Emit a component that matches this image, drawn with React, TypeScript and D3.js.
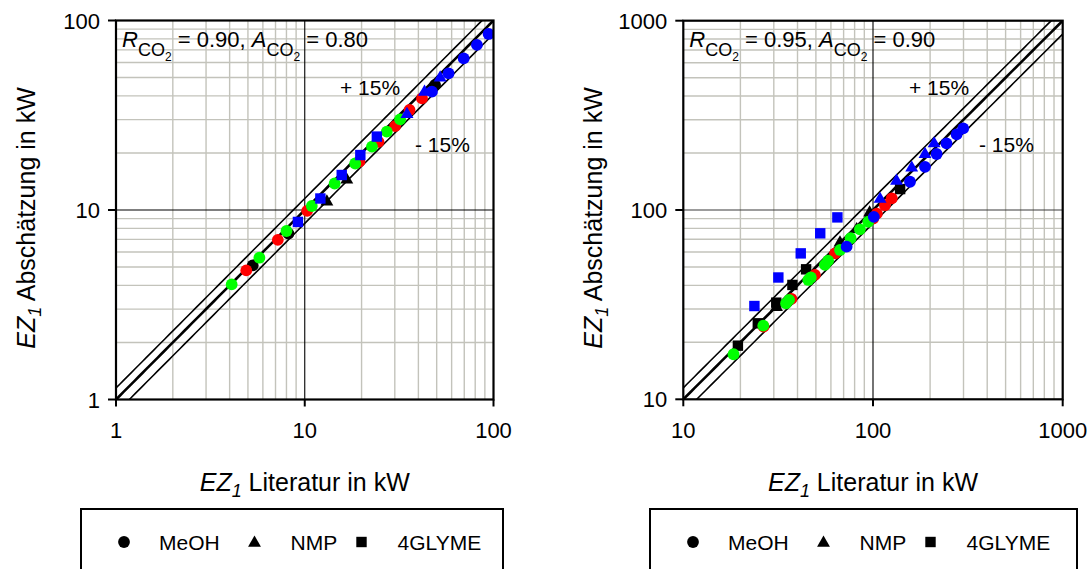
import React from 'react';
import * as d3 from 'd3';

type Pt = [number, number];

// ---- tick labels ----
const leftTicks = [1, 10, 100];
const rightTicks = [10, 100, 1000];

// ---- left panel series (EZ1 Literatur, EZ1 Abschätzung) in kW ----
const leftBlackCircle: Pt[] = [[5.3, 5.1], [8.2, 7.5], [49, 45.7]];
const leftBlackTri: Pt[] = [[13.1, 11.2], [16.7, 14.6]];
const leftRedCircle: Pt[] = [[4.9, 4.8], [7.2, 6.95], [10.3, 9.9], [19.5, 18.0], [24.6, 22.9], [30.1, 27.7], [35.9, 33.7], [41.8, 38.8]];
const leftGreenCircle: Pt[] = [[4.1, 4.05], [5.75, 5.6], [8.0, 7.75], [10.9, 10.5], [14.4, 13.8], [18.5, 17.6], [22.7, 21.6], [27.2, 25.9], [32, 30.1]];
const leftBlueCircle: Pt[] = [[47.2, 42.1], [57.8, 52.6], [69.5, 63.1], [81.7, 74.3], [94.2, 84.9]];
const leftBlueSquare: Pt[] = [[9.2, 8.65], [12.1, 11.5], [15.7, 15.3], [19.7, 19.5], [24.1, 24.4]];
const leftBlueTri: Pt[] = [[34.8, 32.4], [43.1, 42.5], [52.2, 50.5]];

// ---- right panel series ----
const rightBlackSquare: Pt[] = [[19.4, 19.2], [24.7, 25.2], [30.9, 32.4], [37.6, 40.2], [44.4, 48.6], [139, 129]];
const rightBlackTri: Pt[] = [[31, 31], [67, 68], [82, 80], [96, 98]];
const rightRedCircle: Pt[] = [[26.5, 24.2], [37.2, 33.9], [49.4, 45.4], [63.1, 59.0], [100.2, 90], [104.8, 95.6], [115.6, 106], [125.6, 115.3]];
const rightGreenCircle: Pt[] = [[18.4, 17.3], [26.4, 24.5], [34.8, 32.1], [36.1, 33.5], [45.6, 42.7], [47, 44], [55.8, 51.3], [58, 54], [67, 61.5], [76.2, 70.9], [85.3, 79.1], [94.4, 86.7]];
const rightBlueCircle: Pt[] = [[72.6, 64], [101, 92], [156.7, 141], [188, 169], [216.5, 197.6], [244, 225], [276, 251], [299, 270]];
const rightBlueTri: Pt[] = [[109, 115.6], [133, 144], [160, 169], [188, 199.5], [210, 227]];
const rightBlueSquare: Pt[] = [[23.7, 31.1], [31.7, 44.0], [41.6, 59.0], [52.7, 75.3], [64.9, 91.4]];

// tolerance band factors
const bandFactors = [1.15, 1, 0.85];

const legendItems = [
  { shape: 'circle', label: 'MeOH' },
  { shape: 'triangle', label: 'NMP' },
  { shape: 'square', label: '4GLYME' },
];

const FONT = 'Liberation Sans, Arial, sans-serif';

type Series = { pts: Pt[]; shape: string; color: string };

const triPath = d3.symbol().type(d3.symbolTriangle).size(72)() as string;

function Marker({ x, y, shape, color }: { x: number; y: number; shape: string; color: string }) {
  if (shape === 'circle') return <circle cx={x} cy={y} r={5.9} fill={color} />;
  if (shape === 'square') return <rect x={x - 5.2} y={y - 5.2} width={10.4} height={10.4} fill={color} />;
  return <path d={triPath} transform={`translate(${x},${y + 1})`} fill={color} />;
}

type PanelProps = {
  id: string;
  ticks: number[];
  left: number;
  right: number;
  top: number;
  bottom: number;
  series: Series[];
  rText: string;
  aText: string;
  plusPos: [number, number];
  minusPos: [number, number];
  legendLeft: number;
  legendRight: number;
  majorHColor: string;
};

function Panel(p: PanelProps) {
  const dom: [number, number] = [p.ticks[0], p.ticks[p.ticks.length - 1]];
  const x = d3.scaleLog().domain(dom).range([p.left, p.right]);
  const y = d3.scaleLog().domain(dom).range([p.bottom, p.top]);

  const minor: number[] = [];
  for (let i = 0; i < p.ticks.length - 1; i++) {
    for (let m = 2; m <= 9; m++) minor.push(p.ticks[i] * m);
  }
  const inner = p.ticks.slice(1, -1);

  const line = d3
    .line<number>()
    .x((v) => x(v))
    .y((v) => y(v));

  const xsDense = d3.range(0, 101).map((i) => dom[0] * Math.pow(dom[1] / dom[0], i / 100));

  const midX = (p.left + p.right) / 2;
  const midY = (p.top + p.bottom) / 2;

  return (
    <g fontFamily={FONT}>
      <defs>
        <clipPath id={`clip-${p.id}`}>
          <rect x={p.left} y={p.top} width={p.right - p.left} height={p.bottom - p.top} />
        </clipPath>
      </defs>
      {/* minor grid */}
      {minor.map((v) => (
        <g key={`g${v}`}>
          <line x1={x(v)} x2={x(v)} y1={p.top} y2={p.bottom} stroke="#c3c3bb" strokeWidth={1.4} />
          <line x1={p.left} x2={p.right} y1={y(v)} y2={y(v)} stroke="#c3c3bb" strokeWidth={1.4} />
        </g>
      ))}
      {/* decade lines */}
      {inner.map((v) => (
        <g key={`m${v}`}>
          <line x1={x(v)} x2={x(v)} y1={p.top} y2={p.bottom} stroke="#000" strokeWidth={1.1} />
          <line x1={p.left} x2={p.right} y1={y(v)} y2={y(v)} stroke={p.majorHColor} strokeWidth={1.1} />
        </g>
      ))}
      {/* parity line and ±15 % band */}
      <g clipPath={`url(#clip-${p.id})`}>
        {bandFactors.map((f) => (
          <path
            key={`b${f}`}
            d={line.y((v) => y(v * f))(xsDense) as string}
            fill="none"
            stroke="#000"
            strokeWidth={f === 1 ? 2.6 : 1.6}
          />
        ))}
        {p.series.map((s, si) =>
          s.pts.map((d, i) => <Marker key={`s${si}-${i}`} x={x(d[0])} y={y(d[1])} shape={s.shape} color={s.color} />)
        )}
      </g>
      {/* axes frame */}
      <rect x={p.left} y={p.top} width={p.right - p.left} height={p.bottom - p.top} fill="none" stroke="#000" strokeWidth={2.2} />
      {p.ticks.map((v) => (
        <g key={`t${v}`}>
          <line x1={p.left - 8} x2={p.left} y1={y(v)} y2={y(v)} stroke="#000" strokeWidth={2} />
          <line x1={x(v)} x2={x(v)} y1={p.bottom} y2={p.bottom + 7} stroke="#000" strokeWidth={2} />
          <text x={p.left - 16} y={y(v) + 8} fontSize={22} textAnchor="end">
            {String(v)}
          </text>
          <text x={x(v)} y={438} fontSize={22} textAnchor="middle">
            {String(v)}
          </text>
        </g>
      ))}
      {/* annotations */}
      <text x={p.left + 6} y={47} fontSize={22}>
        <tspan fontStyle="italic">R</tspan>
        <tspan fontSize={18} dy={9}>CO</tspan>
        <tspan fontSize={12} dy={5}>2</tspan>
        <tspan dy={-14}>{` = ${p.rText}, `}</tspan>
        <tspan fontStyle="italic">A</tspan>
        <tspan fontSize={18} dy={9}>CO</tspan>
        <tspan fontSize={12} dy={5}>2</tspan>
        <tspan dy={-14}>{` = ${p.aText}`}</tspan>
      </text>
      <text x={p.plusPos[0]} y={p.plusPos[1]} fontSize={21}>+ 15%</text>
      <text x={p.minusPos[0]} y={p.minusPos[1]} fontSize={21}>- 15%</text>
      {/* axis titles */}
      <text x={midX} y={491} fontSize={25} textAnchor="middle">
        <tspan fontStyle="italic">EZ</tspan>
        <tspan fontStyle="italic" fontSize={18} dy={6}>1</tspan>
        <tspan dy={-6}> Literatur in kW</tspan>
      </text>
      <text transform={`translate(${p.left - 81},${midY + 8}) rotate(-90)`} fontSize={25} textAnchor="middle">
        <tspan fontStyle="italic">EZ</tspan>
        <tspan fontStyle="italic" fontSize={18} dy={6}>1</tspan>
        <tspan dy={-6}> Abschätzung in kW</tspan>
      </text>
      {/* legend */}
      <rect x={p.legendLeft} y={509} width={p.legendRight - p.legendLeft} height={80} fill="#fff" stroke="#000" strokeWidth={2} />
      {legendItems.map((it, i) => {
        const offs = [43, 173.5, 280.5][i];
        const textOffs = [78, 209.5, 316.5][i];
        return (
          <g key={it.label}>
            <Marker x={p.legendLeft + offs} y={542} shape={it.shape} color="#000" />
            <text x={p.legendLeft + textOffs} y={549.5} fontSize={21}>
              {it.label}
            </text>
          </g>
        );
      })}
    </g>
  );
}

export default function App() {
  const leftSeries: Series[] = [
    { pts: leftBlackTri, shape: 'triangle', color: '#000' },
    { pts: leftBlackCircle, shape: 'circle', color: '#000' },
    { pts: leftRedCircle, shape: 'circle', color: '#ff0000' },
    { pts: leftGreenCircle, shape: 'circle', color: '#00ff00' },
    { pts: leftBlueCircle, shape: 'circle', color: '#0000ff' },
    { pts: leftBlueTri, shape: 'triangle', color: '#0000ff' },
    { pts: leftBlueSquare, shape: 'square', color: '#0000ff' },
  ];
  const rightSeries: Series[] = [
    { pts: rightBlackTri, shape: 'triangle', color: '#000' },
    { pts: rightBlackSquare, shape: 'square', color: '#000' },
    { pts: rightRedCircle, shape: 'circle', color: '#ff0000' },
    { pts: rightGreenCircle, shape: 'circle', color: '#00ff00' },
    { pts: rightBlueCircle, shape: 'circle', color: '#0000ff' },
    { pts: rightBlueTri, shape: 'triangle', color: '#0000ff' },
    { pts: rightBlueSquare, shape: 'square', color: '#0000ff' },
  ];
  return (
    <svg
      width={1091}
      height={569}
      viewBox="0 0 1091 569"
      style={{ position: 'absolute', left: 0, top: 0, background: '#fff' }}
    >
      <rect x={0} y={0} width={1091} height={569} fill="#fff" />
      <Panel
        id="l"
        ticks={leftTicks}
        left={116}
        right={493.5}
        top={20.5}
        bottom={399.5}
        series={leftSeries}
        rText="0.90"
        aText="0.80"
        plusPos={[340, 95]}
        minusPos={[415, 152]}
        legendLeft={81}
        legendRight={503}
        majorHColor="#000"
      />
      <Panel
        id="r"
        ticks={rightTicks}
        left={683.3}
        right={1062.7}
        top={20.7}
        bottom={399.3}
        series={rightSeries}
        rText="0.95"
        aText="0.90"
        plusPos={[909, 95]}
        minusPos={[979, 152]}
        legendLeft={650}
        legendRight={1077}
        majorHColor="#3a3a3a"
      />
    </svg>
  );
}
